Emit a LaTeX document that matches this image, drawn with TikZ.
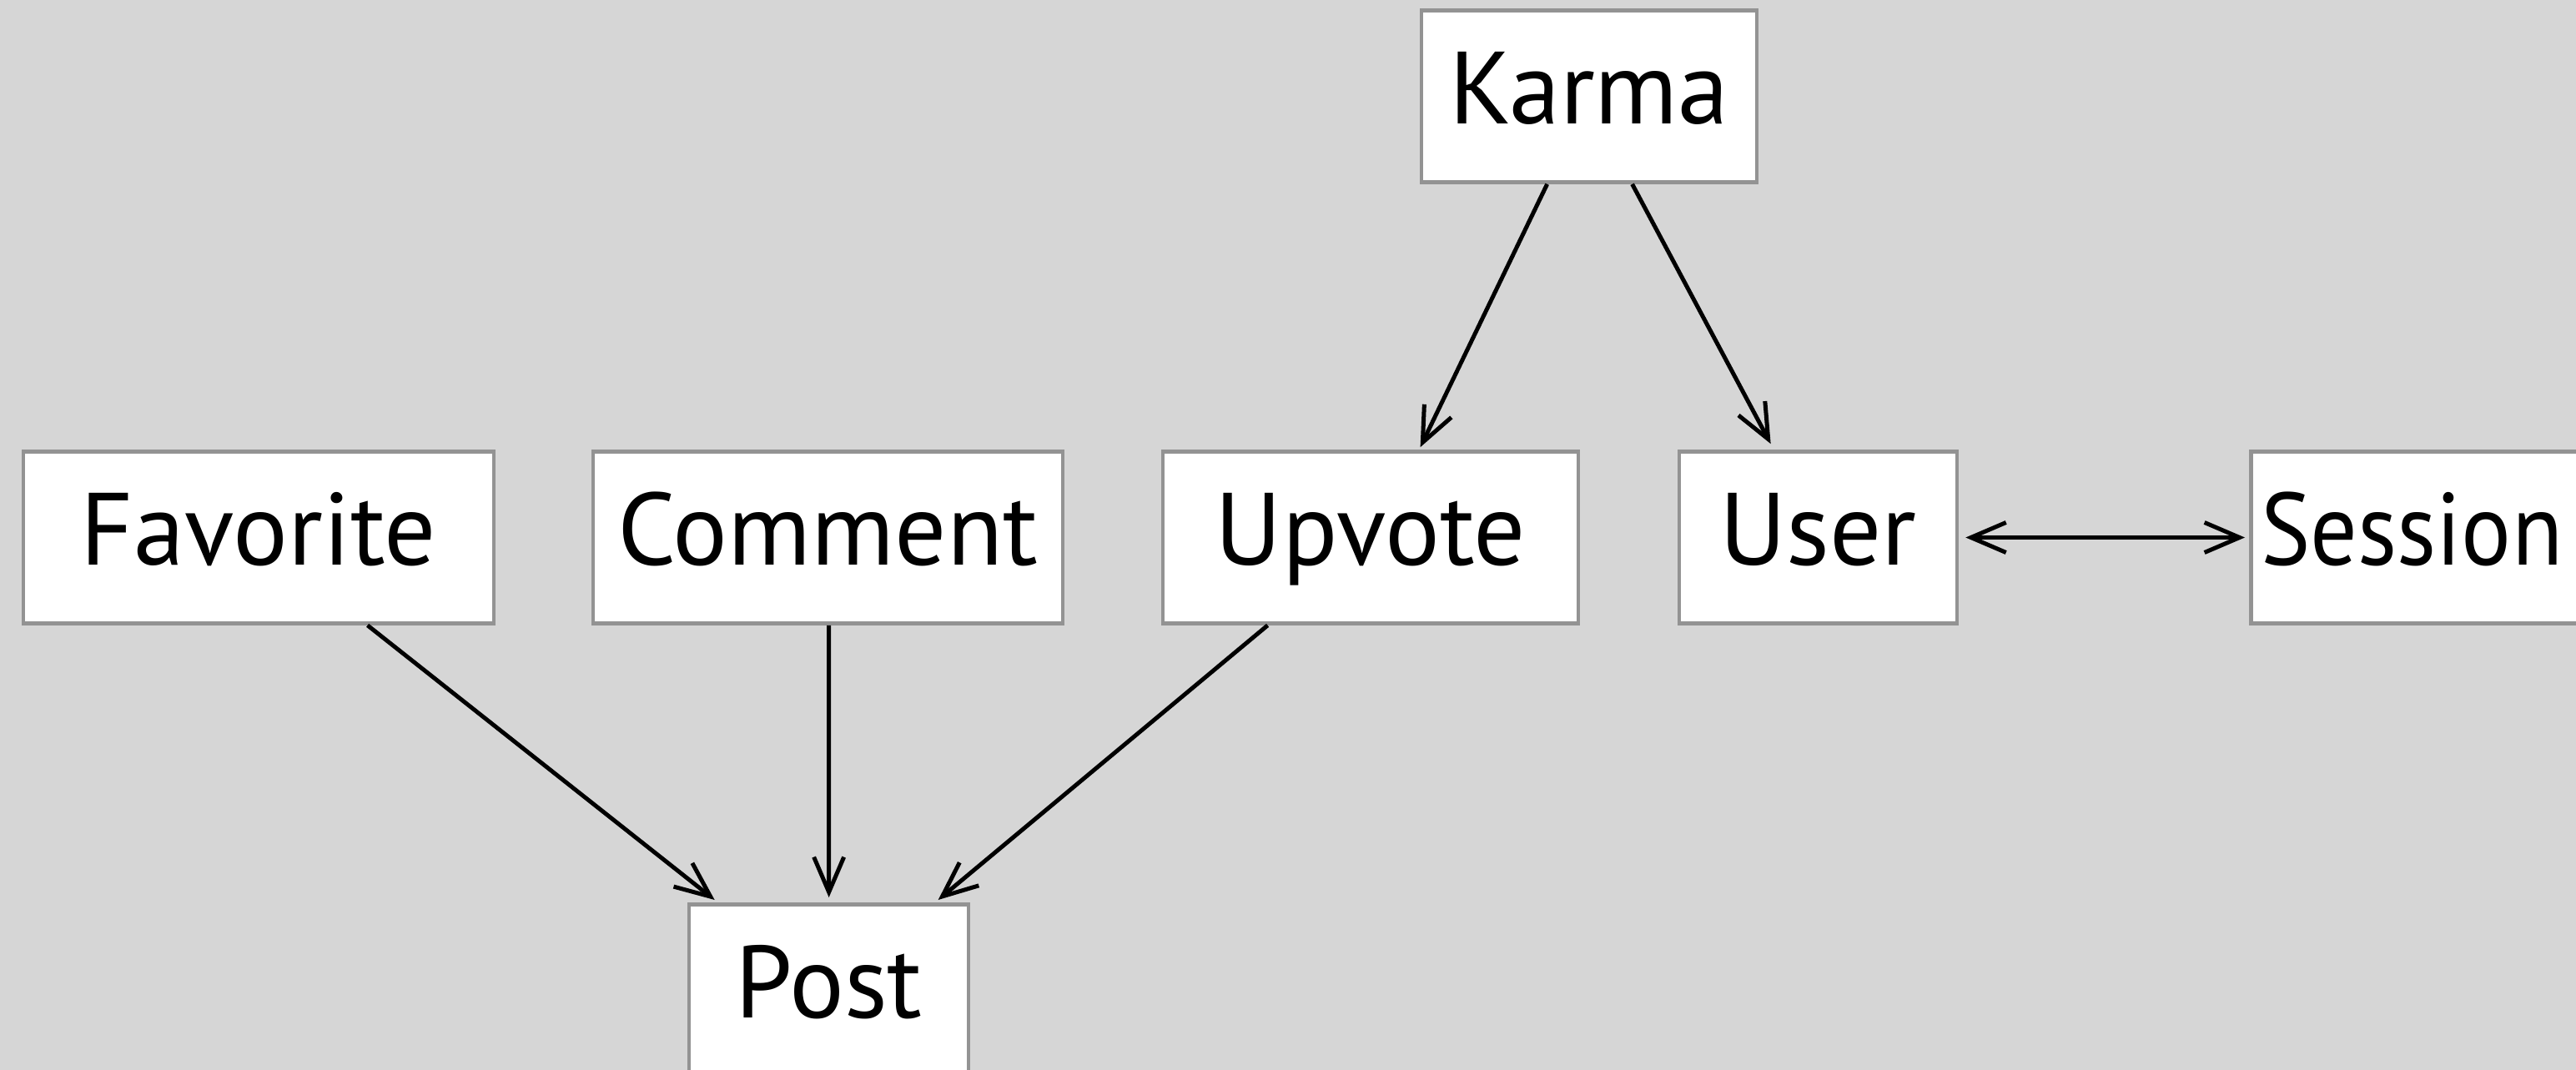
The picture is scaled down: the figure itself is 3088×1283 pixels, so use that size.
\documentclass[tikz,border=0pt]{standalone}
\usepackage{graphicx}
\usepackage{fontspec}
\setmainfont{PT Sans}
\usetikzlibrary{calc,arrows.meta}
\definecolor{canvas}{HTML}{D6D6D6}
\definecolor{frame}{HTML}{939393}
\begin{document}
\begin{tikzpicture}[x=0.01cm,y=-0.01cm,
  entity/.style={draw=frame, line width=0.045cm, fill=white, rectangle,
    inner sep=0pt, minimum height=2.06cm, text height=1.0cm, text depth=0.34cm,
    font=\fontsize{35}{40}\selectfont},
  link/.style={line width=0.05cm, >={Straight Barb[length=0.42cm,width=0.36cm]}}]
\fill[canvas] (0,0) rectangle (3088,1283);
\clip (0,0) rectangle (3088,1283);
% entities
\node[entity, minimum width=4.02cm] (karma) at (1905,115.5) {Karma};
\node[entity, minimum width=5.64cm] (favorite) at (310,644.5) {Favorite};
\node[entity, minimum width=5.63cm] (comment) at (992.5,644.5) {Comment};
\node[entity, minimum width=4.98cm] (upvote) at (1643,644.5) {Upvote};
\node[entity, minimum width=3.33cm] (user) at (2179.5,644.5) {User};
\node[entity, anchor=west, inner xsep=0.12cm, text width=4.6cm, align=left] (session) at (2696,644.5) {\scalebox{0.91}[1]{Session}};
\node[entity, minimum width=3.35cm, anchor=north] (post) at (993.5,1082) {Post};
% relations
\draw[link,->] ($(karma.south west)+(153,0)$) -- ($(upvote.north west)+(311,-3)$);
\draw[link,->] ($(karma.south west)+(255,0)$) -- ($(user.north west)+(112,-7)$);
\draw[link,->] ($(favorite.south west)+(415,0)$) -- ($(post.north west)+(33,-3)$);
\draw[link,->] ($(comment.south west)+(285,0)$) -- ($(post.north west)+(170,-6)$);
\draw[link,->] ($(upvote.south west)+(128,0)$) -- ($(post.north west)+(301,-3)$);
\draw[link,<->] ($(user.east)+(8,0)$) -- ($(session.west)+(-5,0)$);
\end{tikzpicture}
\end{document}
